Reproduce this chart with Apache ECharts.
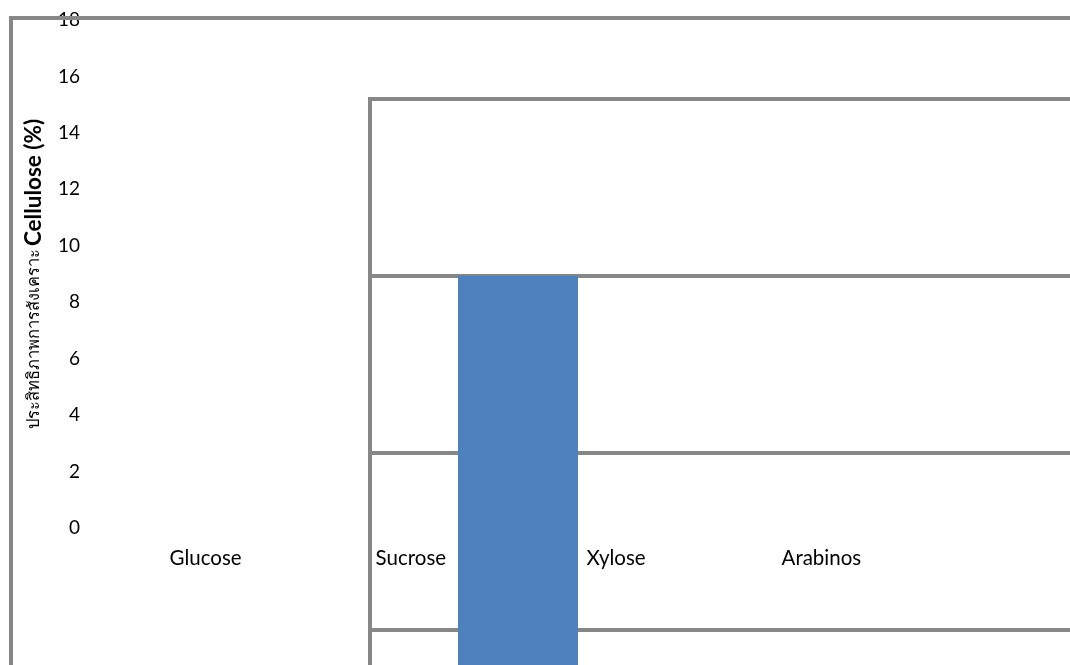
<!DOCTYPE html>
<html>
<head>
<meta charset="utf-8">
<script src="https://cdn.jsdelivr.net/npm/echarts@6/dist/echarts.min.js"></script>
<style>
  html, body { margin: 0; padding: 0; background: #fff; }
  #chart { width: 1070px; height: 665px; }
</style>
</head>
<body>
<div id="chart"></div>
<script>
// ---- data ----
const categories = ['Glucose', 'Sucrose', 'Xylose', 'Arabinos'];
const cellulose = [9, null, null, null];
const yTickMin = 0;
const yTickMax = 18;
const yTickStep = 2;
const boxMin = 0;
const boxMax = 12;
const boxStep = 3;
const yTitleThai = 'ประสิทธิภาพการสังเคราะ';
const yTitleEn = 'Cellulose (%)';

const FONT = 'Lato, "Noto Sans", sans-serif';
const GRAY = '#878787';

const chart = echarts.init(document.getElementById('chart'), null, { renderer: 'canvas' });

chart.setOption({
  animation: false,
  backgroundColor: '#ffffff',
  textStyle: { fontFamily: FONT },
  grid: [
    // 0: labelled axes
    { left: 103, top: 20, width: 821, height: 508, show: false,
      outerBoundsMode: 'none', containLabel: false },
    // 1: inner box holding the bar
    { left: 370, top: 99, width: 1184, height: 707, show: true,
      outerBoundsMode: 'none', containLabel: false,
      borderColor: GRAY, borderWidth: 4, backgroundColor: 'transparent' },
    // 2: outer frame
    { left: 11, top: 18, width: 1300, height: 900, show: true, z: 5,
      outerBoundsMode: 'none', containLabel: false,
      borderColor: GRAY, borderWidth: 4, backgroundColor: 'transparent' }
  ],
  xAxis: [
    { gridIndex: 0, type: 'category', data: categories,
      axisLine: { show: false }, axisTick: { show: false }, splitLine: { show: false },
      axisLabel: { color: '#000', fontSize: 20.5, fontFamily: FONT, margin: 20, interval: 0 } },
    { gridIndex: 1, type: 'category', data: categories,
      axisLine: { show: false }, axisTick: { show: false }, splitLine: { show: false },
      axisLabel: { show: false } },
    { gridIndex: 2, type: 'value', show: false }
  ],
  yAxis: [
    { gridIndex: 0, type: 'value', min: yTickMin, max: yTickMax, interval: yTickStep,
      axisLine: { show: false }, axisTick: { show: false }, splitLine: { show: false },
      axisLabel: { color: '#000', fontSize: 19, fontFamily: FONT, margin: 23 },
      name: '{a|' + yTitleThai + '} {b|' + yTitleEn + '}',
      nameLocation: 'middle', nameGap: 58, nameRotate: 90,
      nameTextStyle: {
        color: '#000',
        rich: {
          a: { fontSize: 16.5, fontFamily: FONT, color: '#000' },
          b: { fontSize: 22.5, fontWeight: 'bold', fontFamily: FONT, color: '#000' }
        }
      } },
    { gridIndex: 1, type: 'value', min: boxMin, max: boxMax, interval: boxStep,
      axisLine: { show: false }, axisTick: { show: false }, axisLabel: { show: false },
      splitLine: { show: true, lineStyle: { color: GRAY, width: 4 } } },
    { gridIndex: 2, type: 'value', show: false }
  ],
  series: [
    { type: 'bar', xAxisIndex: 1, yAxisIndex: 1, data: cellulose,
      barWidth: 120, itemStyle: { color: '#4F81BD' }, z: 3 }
  ]
});
</script>
</body>
</html>
